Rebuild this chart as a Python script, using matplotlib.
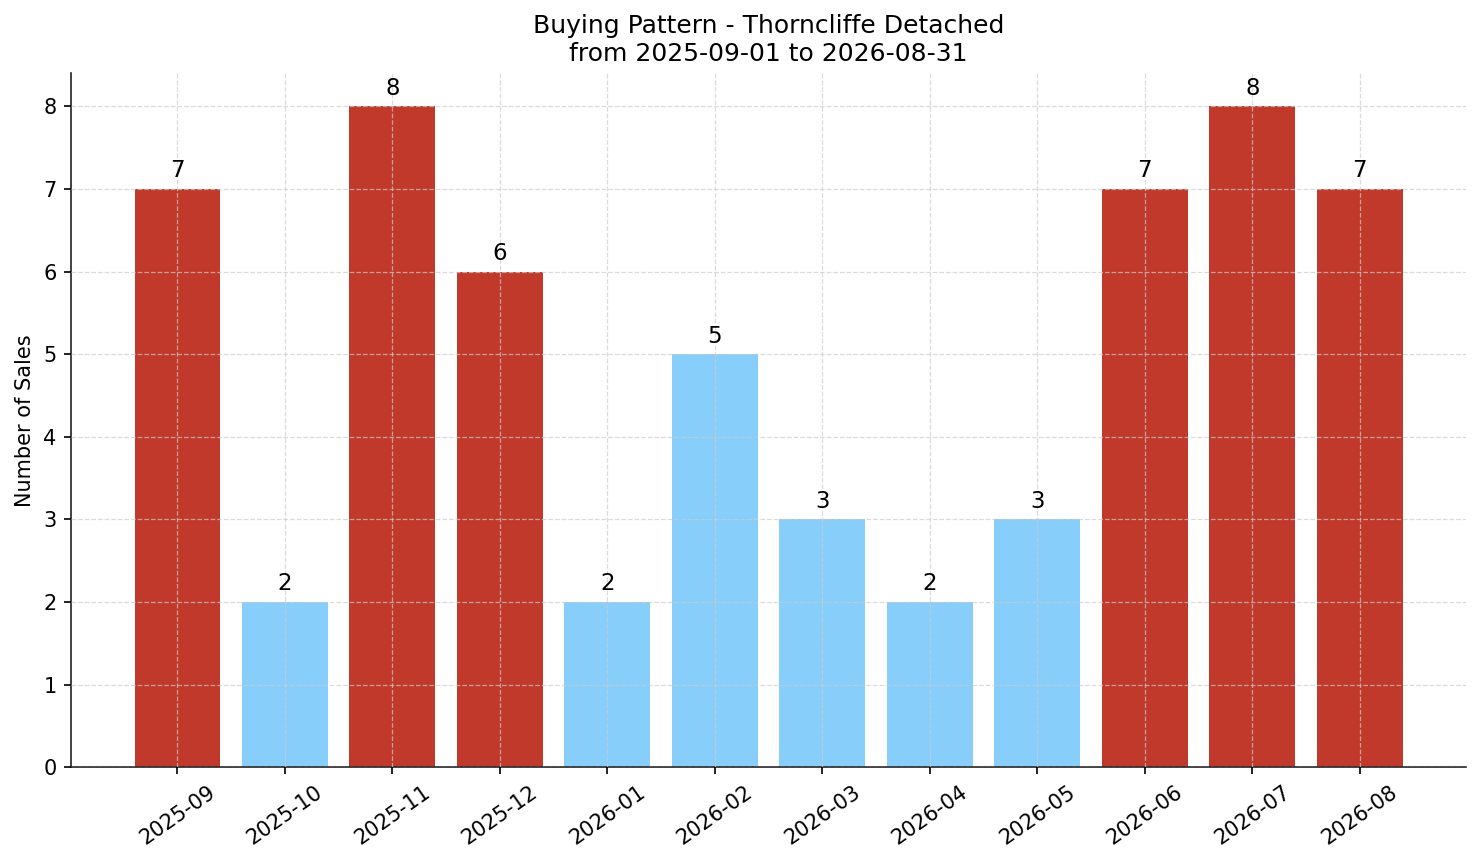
import matplotlib
matplotlib.use("Agg")
import matplotlib.pyplot as plt

months = ["2025-09", "2025-10", "2025-11", "2025-12", "2026-01", "2026-02",
          "2026-03", "2026-04", "2026-05", "2026-06", "2026-07", "2026-08"]
sales = [7, 2, 8, 6, 2, 5, 3, 2, 3, 7, 8, 7]
bar_colors = ["#c0392b", "#87cefa", "#c0392b", "#c0392b", "#87cefa", "#87cefa",
              "#87cefa", "#87cefa", "#87cefa", "#c0392b", "#c0392b", "#c0392b"]

fig, ax = plt.subplots(figsize=(14.81 / 1.5, 8.63 / 1.5), dpi=150)
x = range(len(months))
bars = ax.bar(x, sales, color=bar_colors, width=0.8)
ax.set_xticks(list(x))
ax.set_xticklabels(months, rotation=35)
for b, v in zip(bars, sales):
    ax.text(b.get_x() + b.get_width() / 2, v + 0.08, str(v), ha="center", va="bottom", fontsize=11)
ax.set_ylabel("Number of Sales", fontsize=10)
ax.set_title("Buying Pattern - Thorncliffe Detached\nfrom 2025-09-01 to 2026-08-31", fontsize=12)
ax.grid(True, linestyle="--", color="#cccccc", alpha=0.7, linewidth=0.6)
ax.set_axisbelow(False)
ax.spines["top"].set_visible(False)
ax.spines["right"].set_visible(False)
for s in ("left", "bottom"):
    ax.spines[s].set_color("#222222")
ax.set_ylim(0, 8.4)
fig.subplots_adjust(left=0.048, right=0.99, top=0.915, bottom=0.111)
fig.savefig("out.png", dpi=150)
